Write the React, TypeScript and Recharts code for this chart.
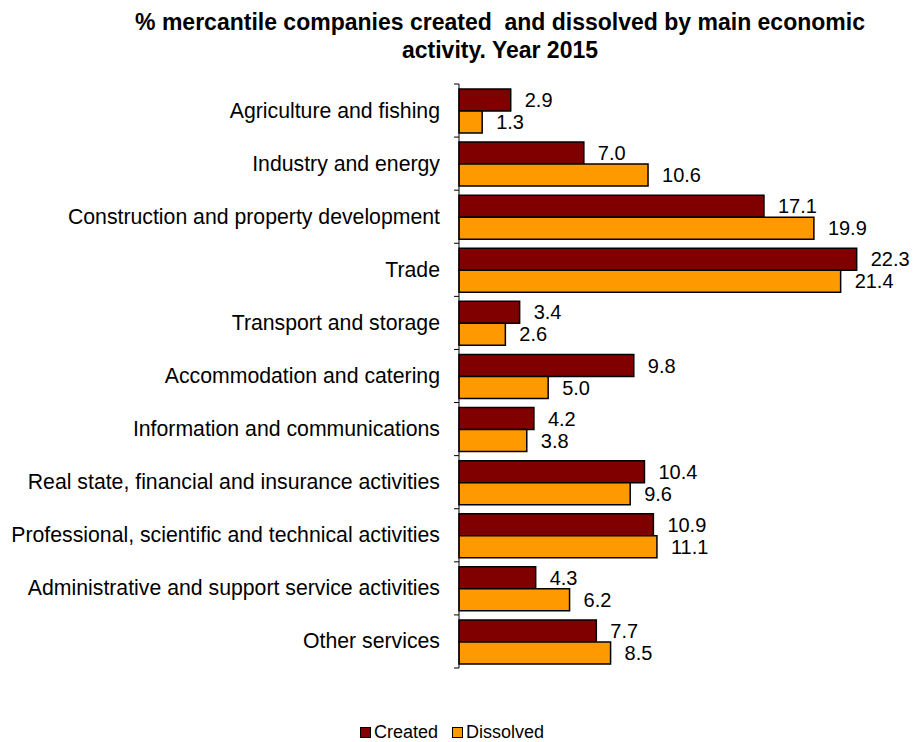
import React from "react";
import { BarChart, Bar, XAxis, YAxis, LabelList } from "recharts";

const categories = [
  "Agriculture and fishing",
  "Industry and energy",
  "Construction and property development",
  "Trade",
  "Transport and storage",
  "Accommodation and catering",
  "Information and communications",
  "Real state, financial and insurance activities",
  "Professional, scientific and technical activities",
  "Administrative and support service activities",
  "Other services",
];
const created = [2.9, 7.0, 17.1, 22.3, 3.4, 9.8, 4.2, 10.4, 10.9, 4.3, 7.7];
const dissolved = [1.3, 10.6, 19.9, 21.4, 2.6, 5.0, 3.8, 9.6, 11.1, 6.2, 8.5];
const titleLines = [
  "% mercantile companies created  and dissolved by main economic",
  "activity. Year 2015",
];
const seriesNames = ["Created", "Dissolved"];

const data = categories.map((name, i) => ({
  name,
  created: created[i],
  dissolved: dissolved[i],
}));

const W = 916;
const H = 742;
const MARGIN = { top: 84, right: 29, bottom: 74, left: 0 };
const YAXIS_W = 459;
const AXIS_X = MARGIN.left + YAXIS_W;
const BAND = (H - MARGIN.top - MARGIN.bottom) / categories.length;
const FONT = "'Liberation Sans', Arial, sans-serif";
const C1 = "#800000";
const C2 = "#FF9900";

const CatTick = (props: any) => {
  const { y, payload, index } = props;
  const top = y - BAND / 2;
  const bottom = y + BAND / 2;
  return (
    <g>
      <line x1={AXIS_X - 5} x2={AXIS_X} y1={top} y2={top} stroke="#000" strokeWidth={1} />
      {index === categories.length - 1 && (
        <line x1={AXIS_X - 5} x2={AXIS_X} y1={bottom} y2={bottom} stroke="#000" strokeWidth={1} />
      )}
      <text
        x={AXIS_X - 19}
        y={y}
        dy={7}
        textAnchor="end"
        fontSize={21.25}
        fontFamily={FONT}
        fill="#000"
      >
        {payload.value}
      </text>
    </g>
  );
};

const fmt = (v: any) => Number(v).toFixed(1);

export default function App() {
  return (
    <div style={{ position: "absolute", left: 0, top: 0, width: W, height: H, background: "#fff", fontFamily: FONT }}>
      <div
        style={{
          position: "absolute",
          left: 0,
          top: 8,
          width: 1000,
          textAlign: "center",
          fontWeight: "bold",
          fontSize: 23,
          lineHeight: "28px",
          color: "#000",
        }}
      >
        {titleLines.map((t, i) => (
          <div key={i} style={{ whiteSpace: "pre" }}>{t}</div>
        ))}
      </div>
      <BarChart
        width={W}
        height={H}
        data={data}
        layout="vertical"
        margin={MARGIN}
        barGap={0}
        barSize={22}
      >
        <XAxis type="number" domain={[0, 24]} hide />
        <YAxis
          type="category"
          dataKey="name"
          width={YAXIS_W}
          axisLine={{ stroke: "#000", strokeWidth: 1 }}
          tickLine={false}
          tick={<CatTick />}
          interval={0}
        />
        <Bar dataKey="created" name={seriesNames[0]} fill={C1} stroke="#000" strokeWidth={1.5} isAnimationActive={false}>
          <LabelList dataKey="created" position="right" offset={14} fontSize={20} fill="#000" fontFamily={FONT} formatter={fmt} />
        </Bar>
        <Bar dataKey="dissolved" name={seriesNames[1]} fill={C2} stroke="#000" strokeWidth={1.5} isAnimationActive={false}>
          <LabelList dataKey="dissolved" position="right" offset={14} fontSize={20} fill="#000" fontFamily={FONT} formatter={fmt} />
        </Bar>
      </BarChart>
      <div
        style={{
          position: "absolute",
          left: 360,
          top: 722,
          display: "flex",
          alignItems: "center",
          fontSize: 18,
          lineHeight: "20px",
          color: "#000",
          whiteSpace: "nowrap",
        }}
      >
        {[C1, C2].map((c, i) => (
          <div key={i} style={{ display: "flex", alignItems: "center", marginRight: 14 }}>
            <span style={{ display: "inline-block", width: 9, height: 9, background: c, border: "1px solid #000", marginRight: 3 }} />
            <span>{seriesNames[i]}</span>
          </div>
        ))}
      </div>
    </div>
  );
}
